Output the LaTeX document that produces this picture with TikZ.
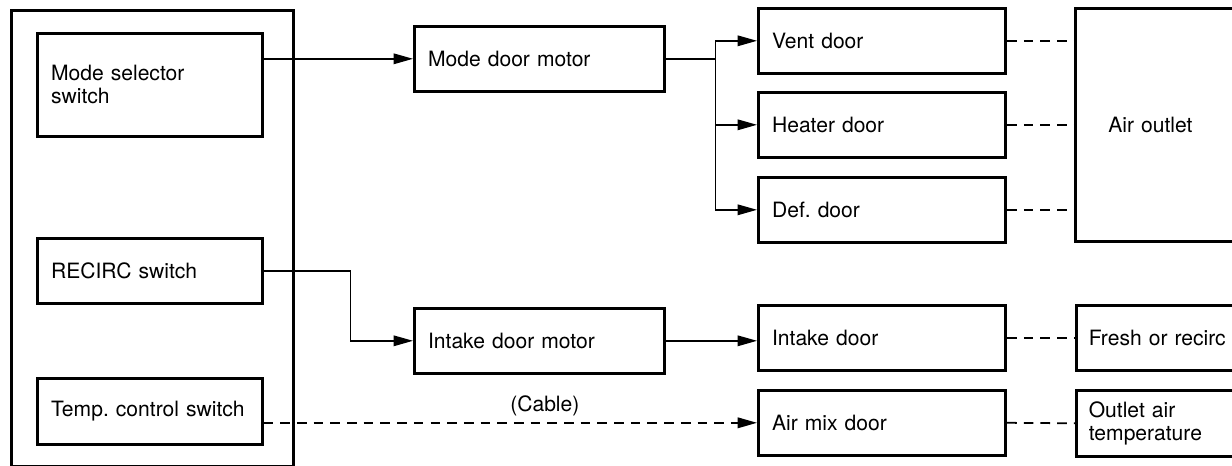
\documentclass[tikz,border=0pt]{standalone}
\usepackage{fontspec}
\setmainfont{TeX Gyre Heros}
\usetikzlibrary{arrows.meta}

\begin{document}
\frenchspacing
\begin{tikzpicture}[x=0.02cm, y=-0.02cm, font=\fontsize{12}{13}\selectfont,
  box/.style={draw, line width=1.5pt, anchor=north west, minimum height=1.3cm,
    inner xsep=0.275cm, inner ysep=0pt, align=left},
  conn/.style={line width=0.8pt, -{Triangle[length=11pt, width=6pt]}},
  link/.style={line width=1pt, dash pattern=on 5.5pt off 4pt}]
  \useasboundingbox (0,0) rectangle (1232,466);
  \clip (0,0) rectangle (1232,466);
  % switch panel
  \node[box, minimum width=5.64cm, minimum height=9.12cm] (panel) at (10,9) {};
  \node[box, text width=3.95cm, minimum height=2.06cm] (modesel) at (36,32) {Mode selector\\switch};
  \node[box, text width=3.95cm] (recirc) at (36,237) {RECIRC switch};
  \node[box, text width=3.95cm, minimum height=1.32cm] (temp) at (36,377) {Temp. control switch};
  % motors
  \node[box, text width=4.45cm] (modemotor) at (413,25) {Mode door motor};
  \node[box, text width=4.45cm] (intakemotor) at (413,307) {Intake door motor};
  % doors
  \foreach \n/\t/\y in {vent/Vent door/7, heater/Heater door/91, def/Def. door/176,
      intake/Intake door/304, airmix/Air mix door/389} {
    \node[box, text width=4.4cm] (\n) at (757,\y) {\t};
  }
  % results (cut at the right edge)
  \node[box, text width=3.1cm, minimum height=4.66cm, inner xsep=0.66cm] (outlet) at (1074,7) {Air outlet};
  \node[box, text width=3.3cm, inner xsep=0.25cm] (fresh) at (1075,304) {Fresh or recirc};
  \node[box, text width=3.3cm, inner xsep=0.25cm, minimum height=1.32cm] (outtemp) at (1075,389) {Outlet air\\temperature};

  % control lines
  \draw[conn] (modemotor.west -| modesel.east) -- (modemotor.west);
  \coordinate (split) at ([xshift=1cm]modemotor.east);
  \draw[line width=0.8pt] (modemotor.east) -- (split);
  \foreach \n in {vent, heater, def} {
    \draw[conn] (split) |- (\n.west);
  }
  \draw[conn] (recirc.east) -- ++(87,0) |- (intakemotor.west);
  \draw[conn] (intakemotor.east) -- (intakemotor.east -| intake.west);
  \draw[conn, link] (airmix.west -| temp.east) -- node[above, pos=0.57] {(Cable)} (airmix.west);
  % door to result links
  \foreach \n in {vent, heater, def} {
    \draw[link] (\n.east) -- (\n.east -| outlet.west);
  }
  \draw[link] (intake.east) -- (fresh.west);
  \draw[link] (airmix.east) -- (outtemp.west);
\end{tikzpicture}
\end{document}
